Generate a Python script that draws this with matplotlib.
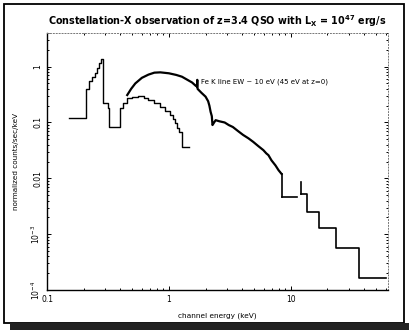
import matplotlib
matplotlib.use("Agg")
import matplotlib.pyplot as plt
from matplotlib.patches import Rectangle
from matplotlib.ticker import LogLocator, FixedLocator, FixedFormatter, NullFormatter

# soft spectrum (ends near 1.5 keV), bin left edges + counts
e_soft = [0.152, 0.21, 0.222, 0.236, 0.248, 0.258, 0.268, 0.278, 0.287, 0.315, 0.322,
          0.40, 0.42, 0.45, 0.50, 0.56, 0.62, 0.68, 0.75, 0.84, 0.93, 1.02, 1.08,
          1.12, 1.17, 1.21, 1.28, 1.47]
c_soft = [0.12, 0.40, 0.56, 0.66, 0.78, 0.96, 1.18, 1.39, 0.22, 0.18, 0.083,
          0.18, 0.22, 0.27, 0.29, 0.30, 0.28, 0.25, 0.22, 0.19, 0.16, 0.137, 0.115,
          0.098, 0.08, 0.067, 0.036, 0.036]

# main spectrum, continuous part
e_main = [0.455, 0.49, 0.53, 0.60, 0.68, 0.76, 0.85, 1.0, 1.15, 1.28, 1.42, 1.55, 1.65,
          1.70, 1.71, 1.72, 1.85, 2.0, 2.1, 2.15, 2.2, 2.25, 2.28, 2.35, 2.42, 2.6,
          2.87, 3.1, 3.35, 3.7, 4.06, 4.5, 4.92, 5.4, 5.96, 6.3, 6.56, 6.95, 7.5,
          7.94, 8.41]
c_main = [0.31, 0.40, 0.50, 0.63, 0.72, 0.78, 0.79, 0.76, 0.71, 0.66, 0.58, 0.52, 0.46,
          0.44, 0.58, 0.40, 0.34, 0.29, 0.24, 0.20, 0.155, 0.13, 0.09, 0.10, 0.11, 0.105,
          0.10, 0.09, 0.083, 0.07, 0.06, 0.052, 0.045, 0.038, 0.032, 0.028, 0.026, 0.021,
          0.017, 0.014, 0.012]

# high energy bins (left edges, last entry closes the final bin)
e_hi1 = [8.41, 11.2]
c_hi1 = [0.0046, 0.0046]
e_hi2 = [12.1, 13.6, 17.1, 23.3, 36.1, 60.0]
c_hi2 = [0.0052, 0.0025, 0.0013, 0.00057, 0.000165, 0.000165]
hi2_top = 0.0085

fig = plt.figure(figsize=(4.09, 3.30), dpi=100)
fig.patch.set_facecolor("white")

# scanned-page frame
fig.add_artist(Rectangle((0.010, 0.022), 0.978, 0.965, transform=fig.transFigure,
                         fill=False, lw=1.3, ec="black"))
fig.add_artist(Rectangle((0.025, 0.0), 0.975, 0.022, transform=fig.transFigure,
                         fc="#222222", ec="none"))

ax = fig.add_axes([0.115, 0.121, 0.834, 0.779])
ax.set_xscale("log")
ax.set_yscale("log")
ax.set_xlim(0.1, 63)
ax.set_ylim(1e-4, 4)

ax.step(e_soft, c_soft, where="post", color="black", lw=1.0)
ax.plot(e_main, c_main, color="black", lw=1.6)
ax.plot([e_main[-1], e_hi1[0]], [c_main[-1], c_hi1[0]], color="black", lw=1.2)
ax.step(e_hi1, c_hi1, where="post", color="black", lw=1.2)
ax.plot([e_hi2[0], e_hi2[0]], [hi2_top, c_hi2[0]], color="black", lw=1.2)
ax.step(e_hi2, c_hi2, where="post", color="black", lw=1.2)

ax.text(1.85, 0.50, "Fe K line EW ~ 10 eV (45 eV at z=0)", fontsize=5.0)

ax.set_title("Constellation-X observation of z=3.4 QSO with L$_\\mathregular{X}$ = 10$^{\\mathregular{47}}$ erg/s",
             fontsize=6.9, fontweight="bold", pad=6)
ax.set_xlabel("channel energy (keV)", fontsize=5.3, labelpad=6)
ax.set_ylabel("normalized counts/sec/keV", fontsize=5.2, labelpad=8)

ax.xaxis.set_major_locator(FixedLocator([0.1, 1, 10]))
ax.xaxis.set_major_formatter(FixedFormatter(["0.1", "1", "10"]))
ax.xaxis.set_minor_locator(LogLocator(subs=range(2, 10), numticks=20))
ax.xaxis.set_minor_formatter(NullFormatter())
ax.yaxis.set_major_locator(FixedLocator([1e-4, 1e-3, 0.01, 0.1, 1]))
ax.yaxis.set_major_formatter(FixedFormatter(["10$^{-4}$", "10$^{-3}$", "0.01", "0.1", "1"]))
ax.yaxis.set_minor_locator(LogLocator(subs=range(2, 10), numticks=20))
ax.yaxis.set_minor_formatter(NullFormatter())
ax.tick_params(which="both", direction="in", top=True, right=True, labelsize=5.5, width=0.7)
ax.tick_params(which="major", length=3)
ax.tick_params(which="minor", length=1.5)
for lab in ax.get_yticklabels():
    lab.set_rotation(90)
    lab.set_va("center")

for s in ["top", "right"]:
    ax.spines[s].set_linestyle((0, (1, 2)))
    ax.spines[s].set_color("#777777")
    ax.spines[s].set_linewidth(0.7)
ax.spines["left"].set_linewidth(1.0)
ax.spines["bottom"].set_linewidth(1.0)

fig.savefig("out.png", dpi=100)
